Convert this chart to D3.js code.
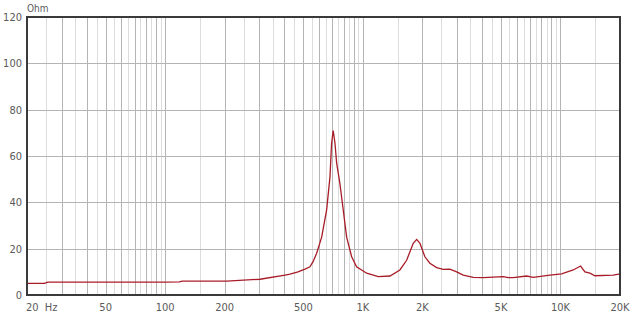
<!DOCTYPE html>
<html>
<head>
<meta charset="UTF-8">
<style>
  body { margin: 0; background: #fff; }
  text { font-family: "Liberation Sans Narrow", "DejaVu Sans Condensed", sans-serif; font-size: 11px; fill: #5a5a5a; }
</style>
</head>
<body>
<div id="chart"></div>
<script src="https://d3js.org/d3.v7.min.js"></script>
<script>

// impedance curve (Hz, Ohm)
const freq = [20, 24.5, 25.5, 50, 100, 118, 122, 205, 302, 404, 428, 470, 510, 540, 560, 584, 619, 656, 682, 695, 708, 723, 737, 766, 796, 828, 878, 930, 1046, 1197, 1372, 1540, 1666, 1799, 1872, 1945, 2061, 2184, 2362, 2551, 2758, 2982, 3221, 3618, 4064, 5133, 5440, 5766, 6740, 7278, 8842, 10132, 11596, 12640, 13292, 14085, 14930, 18480, 20000];
const ohm  = [5.0, 5.0, 5.6, 5.6, 5.6, 5.7, 6.0, 6.0, 6.8, 8.6, 9.0, 10.0, 11.2, 12.2, 14.4, 18.0, 25.0, 36.7, 51.0, 65.5, 71.0, 65.5, 57.0, 48.0, 36.7, 25.0, 16.5, 12.2, 9.4, 7.9, 8.2, 10.8, 15.0, 22.3, 24.0, 22.3, 16.5, 13.7, 11.8, 11.1, 11.2, 10.0, 8.6, 7.6, 7.5, 7.9, 7.5, 7.5, 8.2, 7.6, 8.6, 9.1, 10.8, 12.5, 10.0, 9.4, 8.3, 8.6, 9.1];

const xTicks = [20, 50, 100, 200, 500, 1000, 2000, 5000, 10000, 20000];
const xLabels = ["20  Hz", "50", "100", "200", "500", "1K", "2K", "5K", "10K", "20K"];
const yTicks = [0, 20, 40, 60, 80, 100, 120];

const width = 640, height = 325;
const mLeft = 27, mRight = 620, mTop = 17, mBottom = 295;

const svg = d3.select("#chart").append("svg")
    .attr("width", width)
    .attr("height", height);

const x = d3.scaleLog().domain([20, 20000]).range([mLeft, mRight]);
const y = d3.scaleLinear().domain([0, 120]).range([mBottom, mTop]);

// vertical grid: every half step of each decade
let grid = [];
[10, 100, 1000, 10000].forEach(b => {
  for (let m = 2; m <= 20; m++) {
    let v = b * m / 2;
    if (v > 20 && v < 20000) grid.push({v: v, major: m % 2 == 0});
  }
});
grid = grid.filter((g, i, a) => a.findIndex(h => h.v == g.v) == i);

svg.append("g").selectAll("line")
  .data(grid)
  .enter().append("line")
    .attr("x1", d => Math.round(x(d.v)) + 0.5)
    .attr("x2", d => Math.round(x(d.v)) + 0.5)
    .attr("y1", mTop)
    .attr("y2", mBottom)
    .attr("stroke", d => d.major ? "#b4b4b4" : "#dcdcdc")
    .attr("stroke-width", 1);

svg.append("g").selectAll("line")
  .data(yTicks.slice(1, -1))
  .enter().append("line")
    .attr("x1", mLeft)
    .attr("x2", mRight)
    .attr("y1", d => Math.round(y(d)) + 0.5)
    .attr("y2", d => Math.round(y(d)) + 0.5)
    .attr("stroke", "#b4b4b4");

// curve
const line = d3.line()
    .x((d, i) => x(freq[i]))
    .y(d => y(d));

svg.append("path")
    .datum(ohm)
    .attr("d", line)
    .attr("fill", "none")
    .attr("stroke", "#a81c28")
    .attr("stroke-width", 1.3);

// frame
svg.append("rect")
    .attr("x", mLeft)
    .attr("y", mTop)
    .attr("width", mRight - mLeft)
    .attr("height", mBottom - mTop)
    .attr("fill", "none")
    .attr("stroke", "#3a3a3a")
    .attr("stroke-width", 2);

// labels
svg.append("g").selectAll("text")
  .data(yTicks)
  .enter().append("text")
    .attr("x", 22)
    .attr("y", d => y(d) + 4)
    .attr("text-anchor", "end")
    .text(d => d);

svg.append("text")
    .attr("x", 27)
    .attr("y", 12)
    .style("font-size", "10px")
    .text("Ohm");

svg.append("g").selectAll("text")
  .data(xTicks)
  .enter().append("text")
    .attr("x", (d, i) => i == 0 ? x(d) - 1 : x(d))
    .attr("y", 311)
    .attr("text-anchor", (d, i) => i == 0 ? "start" : "middle")
    .attr("xml:space", "preserve")
    .text((d, i) => xLabels[i]);

</script>
</body>
</html>
